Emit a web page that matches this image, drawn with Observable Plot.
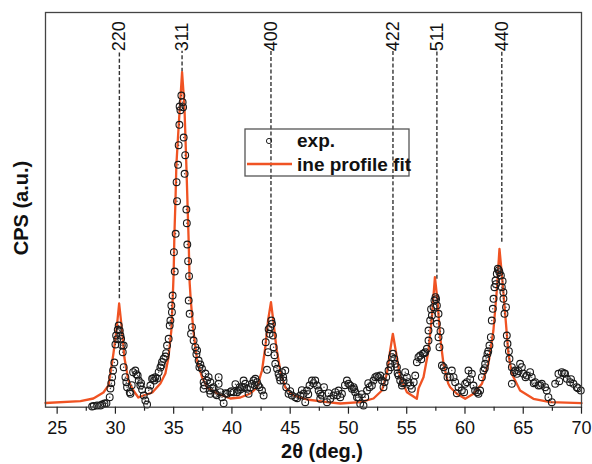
<!DOCTYPE html>
<html><head><meta charset="utf-8">
<script src="https://cdn.jsdelivr.net/npm/d3@7"></script>
<script src="https://cdn.jsdelivr.net/npm/@observablehq/plot@0.6"></script>
<style>
body{margin:0;background:#fff;}
#wrap{position:relative;width:592px;height:464px;font-family:"Liberation Sans",Arial,sans-serif;}
#wrap svg{position:absolute;left:0;top:0;}
</style></head><body><div id="wrap"></div>
<script>
// Experimental points: 2θ (deg.) and CPS (a.u.)
const expTheta = [
28.00,28.14,28.43,28.71,28.86,29.06,29.23,29.51,29.57,29.72,
29.80,29.91,30.00,30.06,30.20,30.28,30.37,30.43,30.49,30.63,
30.71,30.71,30.86,30.94,31.00,31.23,31.29,31.52,31.71,31.91,
32.00,32.14,32.29,32.43,32.57,32.72,32.86,33.00,33.15,33.34,
33.43,33.58,33.71,33.86,34.00,34.14,34.29,34.43,34.57,34.66,
34.72,34.80,34.91,35.09,35.17,35.29,35.38,35.49,35.51,35.66,
35.81,35.86,35.94,36.09,36.17,36.32,36.29,36.37,36.49,36.71,
36.86,37.01,37.14,37.29,37.43,37.57,37.57,37.72,37.86,38.00,
38.09,38.15,38.15,38.43,38.58,38.86,38.86,39.00,39.15,39.29,
39.58,39.86,40.15,40.44,40.57,40.66,40.87,41.00,41.15,41.29,
41.43,41.58,41.72,41.86,42.01,42.15,42.37,42.58,42.72,43.01,
43.10,43.23,43.29,43.38,43.44,43.52,43.58,43.72,43.87,44.00,
44.15,44.29,44.43,44.58,44.66,44.86,45.15,45.44,45.87,46.15,
46.29,46.44,46.66,46.87,47.15,47.30,47.44,47.58,47.58,47.73,
48.16,48.44,48.72,48.87,49.15,49.30,49.44,49.87,50.01,50.15,
50.30,50.44,50.58,50.73,50.87,51.01,51.29,51.44,51.59,51.81,
52.01,52.15,52.30,52.58,52.73,52.87,53.01,53.24,53.44,53.58,
53.73,53.82,53.93,54.01,54.16,54.30,54.44,54.59,54.72,54.87,
55.02,55.15,55.30,55.44,55.73,55.87,56.01,56.16,56.39,56.58,
56.73,56.87,56.87,57.01,57.16,57.30,57.38,57.47,57.59,57.73,
57.59,57.73,57.81,58.02,58.30,58.50,
58.87,59.02,59.16,59.45,59.73,59.93,60.02,60.16,60.30,60.59,
60.73,60.87,61.16,61.30,61.45,61.59,61.73,61.82,61.93,62.10,
62.22,62.30,62.39,62.45,62.53,62.62,62.73,62.82,62.96,63.08,
63.16,63.30,63.30,63.39,63.59,63.65,63.82,64.02,64.02,64.31,
64.45,64.73,64.88,65.02,65.31,65.59,65.73,66.02,66.31,66.59,
66.88,67.02,67.16,67.45,67.74,68.02,68.31,68.59,68.74,69.02,
69.31,69.59,69.94,
// extra points read from the densely packed regions
29.65,30.15,30.55,31.40,31.80,32.20,33.25,33.95,34.35,34.85,
35.02,35.25,35.43,35.58,35.77,35.99,36.13,36.24,36.57,36.95,
37.21,37.65,38.30,38.70,39.45,39.95,40.30,40.75,41.05,41.95,
42.25,42.90,43.15,43.65,44.08,44.40,45.00,45.60,46.00,46.55,
47.00,47.90,48.30,49.05,49.70,50.50,51.15,51.70,52.45,53.10,
53.65,54.22,54.65,55.60,56.25,56.50,57.09,57.52,57.90,58.17,
58.70,59.30,60.45,61.05,61.70,62.00,62.66,62.90,63.23,63.52,
63.77,64.20,64.60,65.20,65.90,66.45,68.10,68.50,69.10,69.70
];
const expCps = [
0.7,1.2,1.7,1.7,2.7,3.7,4,10,18.7,30,
36.7,44.7,62.7,71.7,77.4,81.7,76.7,71.7,68.4,55,
61.7,40,30,25,20,15,13.4,35,36.7,31.7,
26.7,21.7,17.7,11.7,6.7,2.7,16.7,21.7,28.4,26.7,
30,28.7,35,39.7,45.2,48.4,50.7,61.7,68.4,81.7,
86.7,101.7,111.7,135.7,173.4,206,242.4,282.4,300.7,311.7,
300,269.7,233.4,197.7,162.7,131,106.7,93.4,73.4,66.7,
60,56.7,46.7,42.7,38.4,25,18.4,33.7,26.7,30,
16.7,25,13.4,20,13.4,30,23.4,15,10,4,
13.4,15,15,15,16.7,20,20,26.7,23.4,18.4,
13.4,20,23.4,26.7,28.4,25,20,16.7,11.7,37.4,
55,73.4,80,86.7,83.4,71.7,60,43.4,38.4,33.4,
26.7,35,26.7,36.7,20,13.4,11.7,10,11.7,13.4,
5,16.7,21.7,26.7,26.7,21.7,16.7,13.4,8.4,11.7,
5,8.4,11.7,15,16.7,10,13.4,26.7,23.4,21.7,
18.4,20,15,10,10,3.4,1.7,10,16.7,20,
21.7,26.7,30,30,31.7,26.7,20,30,36.7,43.4,
50,53.4,48.4,43.4,40,31.7,26.7,21.7,25,35,
30,25,21.7,18.4,31.7,45,50,51.7,53.4,55,
58.4,66.7,76.7,86.7,91.7,100,106.7,110,101.7,93.4,
83.4,70,60,41.7,36.7,30,
36.7,30,25,20,16.7,15,23.4,25,36.7,33.4,
21.7,16.7,13.4,16.7,30,36.7,43.4,48.4,53.4,61.7,
70,86.7,98.4,108.4,120,126.7,133.4,138.4,135,131.7,
120,115,108.4,93.4,71.7,63.4,48.4,40,23.4,36.7,
33.4,43.4,40,33.4,31.7,35,30,25,21.7,23.4,
20,16.7,10,5,23.4,33.4,35,33.4,28.4,25,
23.4,20,16.7,
24,68,62,22,33,24,29,42,54,95,
155,225,262,297,305,252,184,146,80,53,
40,22,19,12,14,16,23,18,20,22,
22,65,78,52,30,30,16,9,17,13,
24,20,14,12,22,18,13,24,31,25,
40,34,24,25,48,54,98,108,76,40,
30,14,28,15,39,56,123,137,126,100,
56,35,36,30,24,22,26,34,28,19
];

// Line profile fit
const fitTheta = [
24.0,27.0,28.11,28.97,29.40,29.57,29.83,30.09,30.32,30.57,
30.77,31.11,31.54,31.97,32.40,33.17,33.86,34.29,34.55,34.80,
34.91,35.00,35.06,35.15,35.23,35.43,35.72,35.92,36.09,36.20,
36.29,36.37,36.47,36.69,37.01,37.44,37.86,38.72,39.86,40.72,
41.58,42.15,42.58,42.86,43.10,43.35,43.58,43.81,44.15,44.58,
45.29,46.44,48.16,49.30,51.01,52.15,52.87,53.30,53.58,53.81,
54.10,54.44,55.02,55.87,56.01,56.44,56.87,57.16,57.42,57.64,
57.87,58.15,58.56,58.73,59.30,60.02,60.73,61.45,62.01,62.44,
62.73,62.96,63.16,63.45,63.73,64.02,64.73,65.87,67.31,70.0
];
const fitCps = [
4.2,6,8.7,14.7,21.7,33.7,53.7,76.7,103.7,76.7,
49.7,26.7,16.7,9.7,11.7,14.7,23.7,33.7,49.7,76.7,
106.7,134.7,171.7,204.7,241.7,281.7,335,301.7,241.7,198.7,
164.7,124.7,106.7,76.7,46.7,29.7,19.7,13.7,8.7,9.7,
13.7,19.7,36.7,59.7,86.7,105,83.7,59.7,36.7,19.7,
11.7,7.7,5,3.7,5,8.7,16.7,33.7,56.7,73.4,
53.7,29.7,15,8.4,18.7,30,56.7,90,130,106.7,
70,43.7,23.7,20,13.4,8.4,13.4,23.4,43.4,76.7,
116.7,158.4,133.4,93.4,53.4,33.4,16.7,8.4,5,4
];

// Reflection indices
const hklLabels = ["220","311","400","422","511","440"];
const hklTheta = [30.34,35.72,43.35,53.82,57.59,63.16];
const hklPeakCps = [108.4,335,110,85,128,165];

const majorTicks = [25,30,35,40,45,50,55,60,65,70];
const minorTicks = [27.5,32.5,37.5,42.5,47.5,52.5,57.5,62.5,67.5];

const expData = d3.range(Math.min(expTheta.length, expCps.length)).map(i => ({t: expTheta[i], c: expCps[i]}));
const fitData = d3.range(Math.min(fitTheta.length, fitCps.length)).map(i => ({t: fitTheta[i], c: fitCps[i]}));
const hklData = hklLabels.map((l, i) => ({label: l, t: hklTheta[i], c: hklPeakCps[i]}));

const LABEL_BASE = 356;
const FIT_COLOR = "#f05323";

const chart = Plot.plot({
  width: 592, height: 464,
  marginLeft: 45, marginRight: 11, marginTop: 12, marginBottom: 57.3,
  style: {fontFamily: "Liberation Sans, Arial, sans-serif", background: "transparent", color: "#111"},
  x: {domain: [24, 70]},
  y: {domain: [0, 394.7], axis: null},
  marks: [
    Plot.ruleX(hklData, {x: "t", y1: "c", y2: LABEL_BASE, stroke: "#333", strokeWidth: 1.4, strokeDasharray: "4,2.2"}),
    Plot.line(fitData, {x: "t", y: "c", stroke: FIT_COLOR, strokeWidth: 2.3}),
    Plot.dot(expData, {x: "t", y: "c", r: 3.4, stroke: "#1a1a1a", strokeWidth: 1.1, fill: "none"}),
    Plot.dot(expData, {x: "t", y: "c", r: 0.7, fill: "#444", stroke: null}),
    Plot.text(hklData, {x: "t", y: LABEL_BASE, text: "label", rotate: -90, textAnchor: "start", fontSize: 18, fill: "#111"}),
    Plot.frame({stroke: "#444", strokeWidth: 1.3}),
    Plot.axisX({ticks: majorTicks, tickSize: 7, tickPadding: 7, fontSize: 18, label: null, tickFormat: d => String(d), stroke: "#222", strokeWidth: 1.2}),
    Plot.axisX({ticks: minorTicks, tickSize: 4, tickFormat: () => "", label: null, stroke: "#222", strokeWidth: 1.2})
  ]
});

const wrap = document.getElementById("wrap");
wrap.appendChild(chart);

// Overlay: titles and legend
const ov = d3.select(wrap).append("svg").attr("width", 592).attr("height", 464)
  .style("font-family", "Liberation Sans, Arial, sans-serif").style("pointer-events", "none");
ov.append("text").attr("x", 322).attr("y", 458).attr("text-anchor", "middle")
  .attr("font-size", 20).attr("font-weight", "bold").attr("fill", "#111").text("2θ (deg.)");
ov.append("text").attr("transform", "translate(28,208) rotate(-90)").attr("text-anchor", "middle")
  .attr("font-size", 20).attr("font-weight", "bold").attr("fill", "#111").text("CPS (a.u.)");
const lg = ov.append("g");
lg.append("rect").attr("x", 245).attr("y", 129).attr("width", 164).attr("height", 47)
  .attr("fill", "none").attr("stroke", "#555").attr("stroke-width", 1.3);
lg.append("circle").attr("cx", 269).attr("cy", 141).attr("r", 2.6).attr("fill", "none").attr("stroke", "#222").attr("stroke-width", 1);
lg.append("line").attr("x1", 247).attr("x2", 292).attr("y1", 164).attr("y2", 164).attr("stroke", FIT_COLOR).attr("stroke-width", 2.3);
lg.append("text").attr("x", 297).attr("y", 147).attr("font-size", 19).attr("font-weight", "bold").attr("fill", "#111").text("exp.");
lg.append("text").attr("x", 297).attr("y", 171).attr("font-size", 19).attr("font-weight", "bold").attr("fill", "#111").text("ine profile fit");
</script></body></html>
